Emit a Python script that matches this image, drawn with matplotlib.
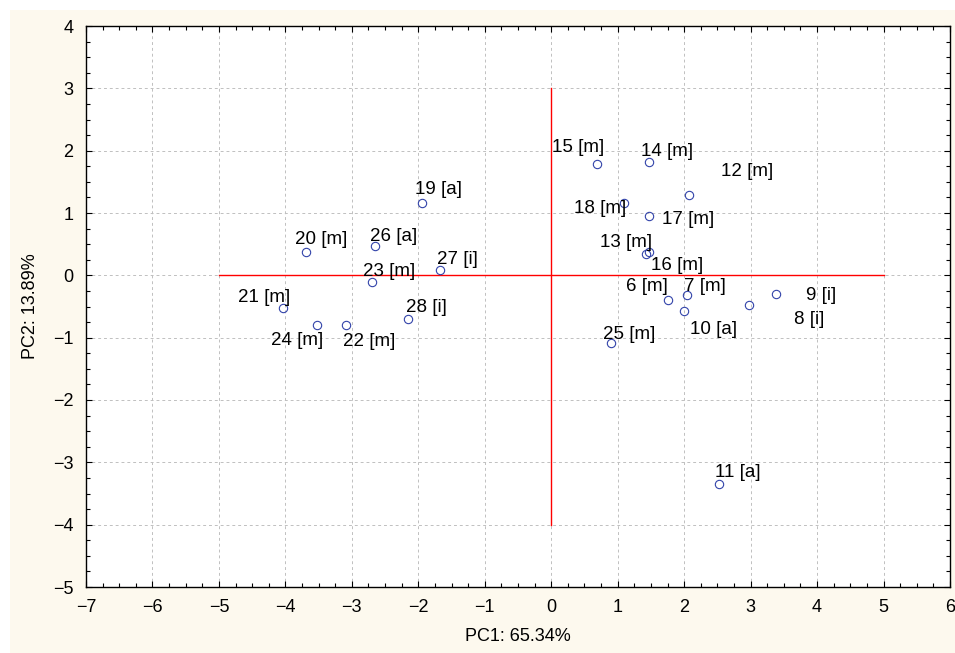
import numpy as np
import matplotlib.pyplot as plt
import matplotlib.patches as mpatches
from matplotlib.ticker import MultipleLocator

plt.rcParams['font.family'] = ['Liberation Sans', 'DejaVu Sans']

# PCA scores (PC1, PC2) per sample
labels = ['6 [m]', '7 [m]', '8 [i]', '9 [i]', '10 [a]', '11 [a]', '12 [m]',
          '13 [m]', '14 [m]', '15 [m]', '16 [m]', '17 [m]', '18 [m]', '19 [a]',
          '20 [m]', '21 [m]', '22 [m]', '23 [m]', '24 [m]', '25 [m]', '26 [a]',
          '27 [i]', '28 [i]']
pc1 = [1.75, 2.04, 2.98, 3.38, 2.00, 2.53, 2.07,
       1.42, 1.47, 0.69, 1.47, 1.47, 1.10, -1.95,
       -3.69, -4.03, -3.09, -2.69, -3.53, 0.90, -2.65,
       -1.67, -2.15]
pc2 = [-0.40, -0.31, -0.48, -0.30, -0.57, -3.35, 1.29,
       0.34, 1.82, 1.79, 0.38, 0.95, 1.16, 1.16,
       0.38, -0.52, -0.79, -0.10, -0.79, -1.09, 0.47,
       0.085, -0.70]

# label offsets in pixels (text centre relative to point)
offsets = [(-21, 14), (18, 8), (60, -14), (45, -1), (29, -19), (18, 12), (58, 23),
           (-20, 12), (18, 10), (-19, 16), (28, -14), (39, -3), (-24, -5), (17, 14),
           (15, 12), (-19, 10), (23, -17), (17, 10), (-19, -16), (18, 9), (19, 10),
           (17, 11), (18, 11)]

fig = plt.figure(figsize=(9.55, 6.53), dpi=100, facecolor='white')
fig.patches.append(mpatches.Rectangle((10 / 955, 0), 1, 1 - 10 / 653,
                                      transform=fig.transFigure,
                                      facecolor='#fdf9ee', edgecolor='none', zorder=-1))
ax = fig.add_axes([86 / 955, 1 - 587 / 653, 864 / 955, 561 / 653])
ax.set_facecolor('white')

ax.set_xlim(-7, 6)
ax.set_ylim(-5, 4)
ax.xaxis.set_major_locator(MultipleLocator(1))
ax.yaxis.set_major_locator(MultipleLocator(1))
ax.xaxis.set_minor_locator(MultipleLocator(0.25))
ax.yaxis.set_minor_locator(MultipleLocator(0.25))
ax.tick_params(which='both', direction='in', top=True, right=True,
               labelsize=13, width=0.8)
ax.tick_params(which='major', length=4)
ax.tick_params(which='minor', length=3)
ax.tick_params(axis='x', pad=9)
ax.tick_params(axis='y', pad=9)
ax.grid(True, which='major', linestyle=(0, (3, 3)), color='#c0c0c0', linewidth=0.7)
ax.set_axisbelow(True)
for s in ax.spines.values():
    s.set_linewidth(1.0)

# axis reference lines
ax.plot([-5, 5], [0, 0], color='red', lw=1, zorder=2)
ax.plot([0, 0], [-4, 3], color='red', lw=1, zorder=2)

ax.plot(pc1, pc2, ls='', marker='o', ms=6, mfc='none', mec='#3344aa', mew=0.8, zorder=3)
for lab, x, y, (dx, dy) in zip(labels, pc1, pc2, offsets):
    ax.annotate(lab, (x, y), xytext=(dx, dy), textcoords='offset pixels',
                ha='center', va='center', fontsize=13.5, color='black', zorder=4)

ax.set_xlabel('PC1: 65.34%', fontsize=13, labelpad=8)
ax.set_ylabel('PC2: 13.89%', fontsize=13, labelpad=10)

fig.savefig('out.png', dpi=100, facecolor=fig.get_facecolor())
